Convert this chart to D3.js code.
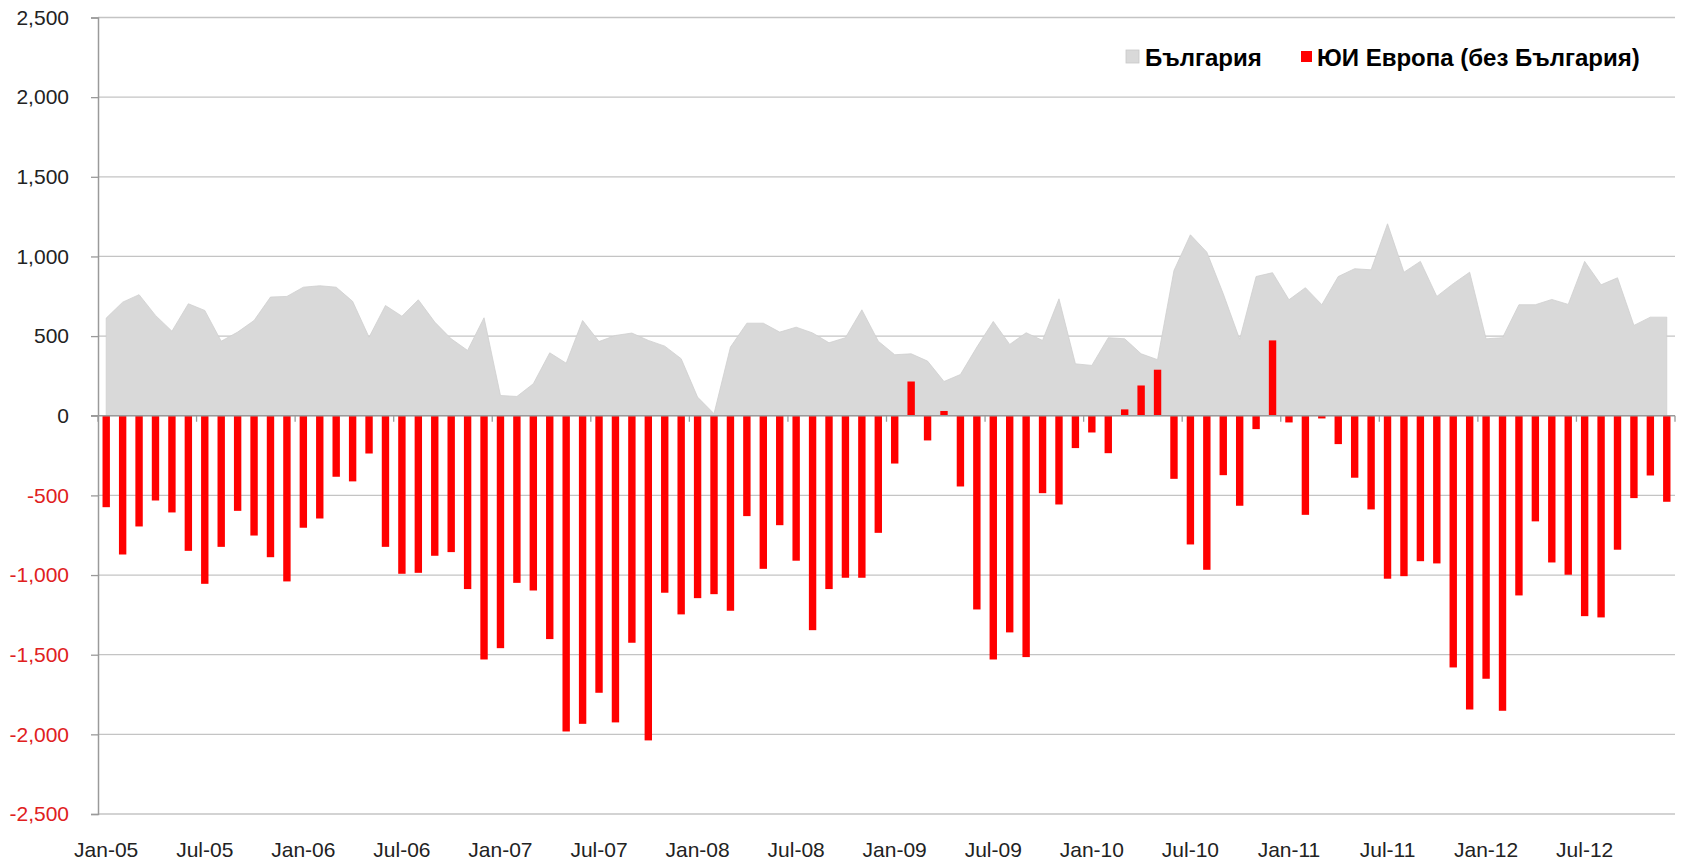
<!DOCTYPE html>
<html>
<head>
<meta charset="utf-8">
<script src="https://cdn.jsdelivr.net/npm/d3@7"></script>
<style>
  html, body { margin: 0; padding: 0; background: #fff; }
  svg { display: block; font-family: "Liberation Sans", Arial, sans-serif; }
</style>
</head>
<body>
<svg id="chart" width="1683" height="862"></svg>
<script>
// ---- Data ----
const monthNames = ["Jan","Feb","Mar","Apr","May","Jun","Jul","Aug","Sep","Oct","Nov","Dec"];
const yearLabels = ["05","06","07","08","09","10","11","12"];
const categories = yearLabels.flatMap(yr => monthNames.map(m => m + "-" + yr));

const bulgaria = [
  613, 713, 760, 630, 531, 703, 661, 468, 525, 598, 745, 749,
  807, 816, 807, 718, 493, 692, 625, 728, 588, 483, 410, 615,
  127, 121, 201, 395, 330, 598, 466, 504, 519, 473, 437, 358,
  117, 13, 431, 581, 581, 525, 556, 520, 458, 490, 665, 468,
  383, 389, 343, 215, 259, 431, 592, 448, 521, 473, 734, 326,
  316, 490, 483, 389, 352, 912, 1136, 1027, 766, 480, 874, 898,
  728, 804, 697, 874, 923, 916, 1205, 901, 969, 749, 829, 901,
  483, 490, 697, 697, 730, 699, 969, 822, 866, 567, 619, 619
];

const seEurope = [
  -574, -871, -695, -532, -607, -848, -1055, -823, -597, -752, -888, -1040,
  -703, -645, -383, -412, -237, -823, -992, -986, -879, -856, -1088, -1530,
  -1459, -1049, -1097, -1402, -1982, -1934, -1739, -1925, -1425, -2038, -1111, -1247,
  -1145, -1120, -1224, -630, -961, -687, -910, -1346, -1088, -1017, -1017, -735,
  -300, 215, -155, 30, -444, -1216, -1530, -1360, -1515, -486, -557, -203,
  -105, -235, 40, 190, 289, -396, -808, -967, -373, -565, -84, 473,
  -42, -622, -17, -178, -389, -588, -1023, -1007, -913, -927, -1580, -1844,
  -1651, -1852, -1128, -663, -921, -998, -1258, -1266, -841, -517, -375, -540
];

const yTicks = [-2500, -2000, -1500, -1000, -500, 0, 500, 1000, 1500, 2000, 2500];
const xLabelEvery = 6;
const seriesNames = ["България", "ЮИ Европа (без България)"];

// ---- Layout ----
const svg = d3.select("#chart");
const plotLeft = 98, plotRight = 1675, plotTop = 17.5, plotBottom = 814;

const x = d3.scaleBand().domain(categories).range([plotLeft, plotRight]).padding(0);
const y = d3.scaleLinear().domain([-2500, 2500]).range([plotBottom, plotTop]);
const bw = x.bandwidth();

// gridlines
svg.append("g").selectAll("line")
  .data(yTicks.filter(t => t !== 0))
  .join("line")
  .attr("x1", plotLeft).attr("x2", plotRight)
  .attr("y1", d => y(d)).attr("y2", d => y(d))
  .attr("stroke", "#c4c4c4").attr("stroke-width", 1.3);

// area (Bulgaria)
const area = d3.area()
  .x((d, i) => x(categories[i]) + bw / 2)
  .y0(y(0))
  .y1(d => y(d));
svg.append("path")
  .datum(bulgaria)
  .attr("d", area)
  .attr("fill", "#d9d9d9")
  .attr("stroke", "#cfcfcf")
  .attr("stroke-width", 0.8);

// bars (SE Europe)
const barW = bw * 0.45;
svg.append("g").selectAll("rect")
  .data(seEurope)
  .join("rect")
  .attr("x", (d, i) => x(categories[i]) + (bw - barW) / 2)
  .attr("width", barW)
  .attr("y", d => Math.min(y(d), y(0)))
  .attr("height", d => Math.abs(y(d) - y(0)))
  .attr("fill", "#ff0000");

// y axis (hyphen-minus, as in the original)
const locale = d3.formatLocale({ decimal: ".", thousands: ",", grouping: [3], currency: ["", ""], minus: "-" });
const yAxis = d3.axisLeft(y).tickValues(yTicks).tickSize(7).tickPadding(22)
  .tickFormat(locale.format(","));
const gy = svg.append("g").attr("transform", `translate(${plotLeft},0)`).call(yAxis);
gy.select(".domain").attr("stroke", "#9a9a9a").attr("stroke-width", 1.5);
gy.selectAll(".tick line").attr("stroke", "#9a9a9a").attr("stroke-width", 1.3);
gy.selectAll(".tick text")
  .attr("font-size", 21)
  .attr("font-family", "'Liberation Sans', Arial, sans-serif")
  .attr("fill", d => d < 0 ? "#e02020" : "#222");

// zero (category) axis line
svg.append("line")
  .attr("x1", plotLeft - 7).attr("x2", plotRight)
  .attr("y1", y(0)).attr("y2", y(0))
  .attr("stroke", "#9a9a9a").attr("stroke-width", 1.5);

// category tick marks every 6 months, at category boundaries
const tickCats = categories.filter((c, i) => i % xLabelEvery === 0);
svg.append("g").selectAll("line")
  .data(tickCats.concat(["__end"]))
  .join("line")
  .attr("x1", d => d === "__end" ? plotRight : x(d))
  .attr("x2", d => d === "__end" ? plotRight : x(d))
  .attr("y1", y(0)).attr("y2", y(0) + 6)
  .attr("stroke", "#9a9a9a").attr("stroke-width", 1.3);

// category labels (at bottom)
svg.append("g").selectAll("text")
  .data(tickCats)
  .join("text")
  .attr("x", d => x(d) + bw / 2)
  .attr("y", 857)
  .attr("text-anchor", "middle")
  .attr("font-size", 21)
  .attr("fill", "#222")
  .text(d => d);

// legend
const legend = svg.append("g");
legend.append("rect").attr("x", 1126).attr("y", 50).attr("width", 13).attr("height", 13)
  .attr("fill", "#d9d9d9").attr("stroke", "#c8c8c8").attr("stroke-width", 0.8);
legend.append("text").attr("x", 1145).attr("y", 66)
  .attr("font-size", 24).attr("font-weight", "bold").attr("fill", "#000")
  .text(seriesNames[0]);
legend.append("rect").attr("x", 1301).attr("y", 51).attr("width", 11).attr("height", 11)
  .attr("fill", "#ff0000");
legend.append("text").attr("x", 1317).attr("y", 66)
  .attr("font-size", 24).attr("font-weight", "bold").attr("fill", "#000")
  .text(seriesNames[1]);
</script>
</body>
</html>
